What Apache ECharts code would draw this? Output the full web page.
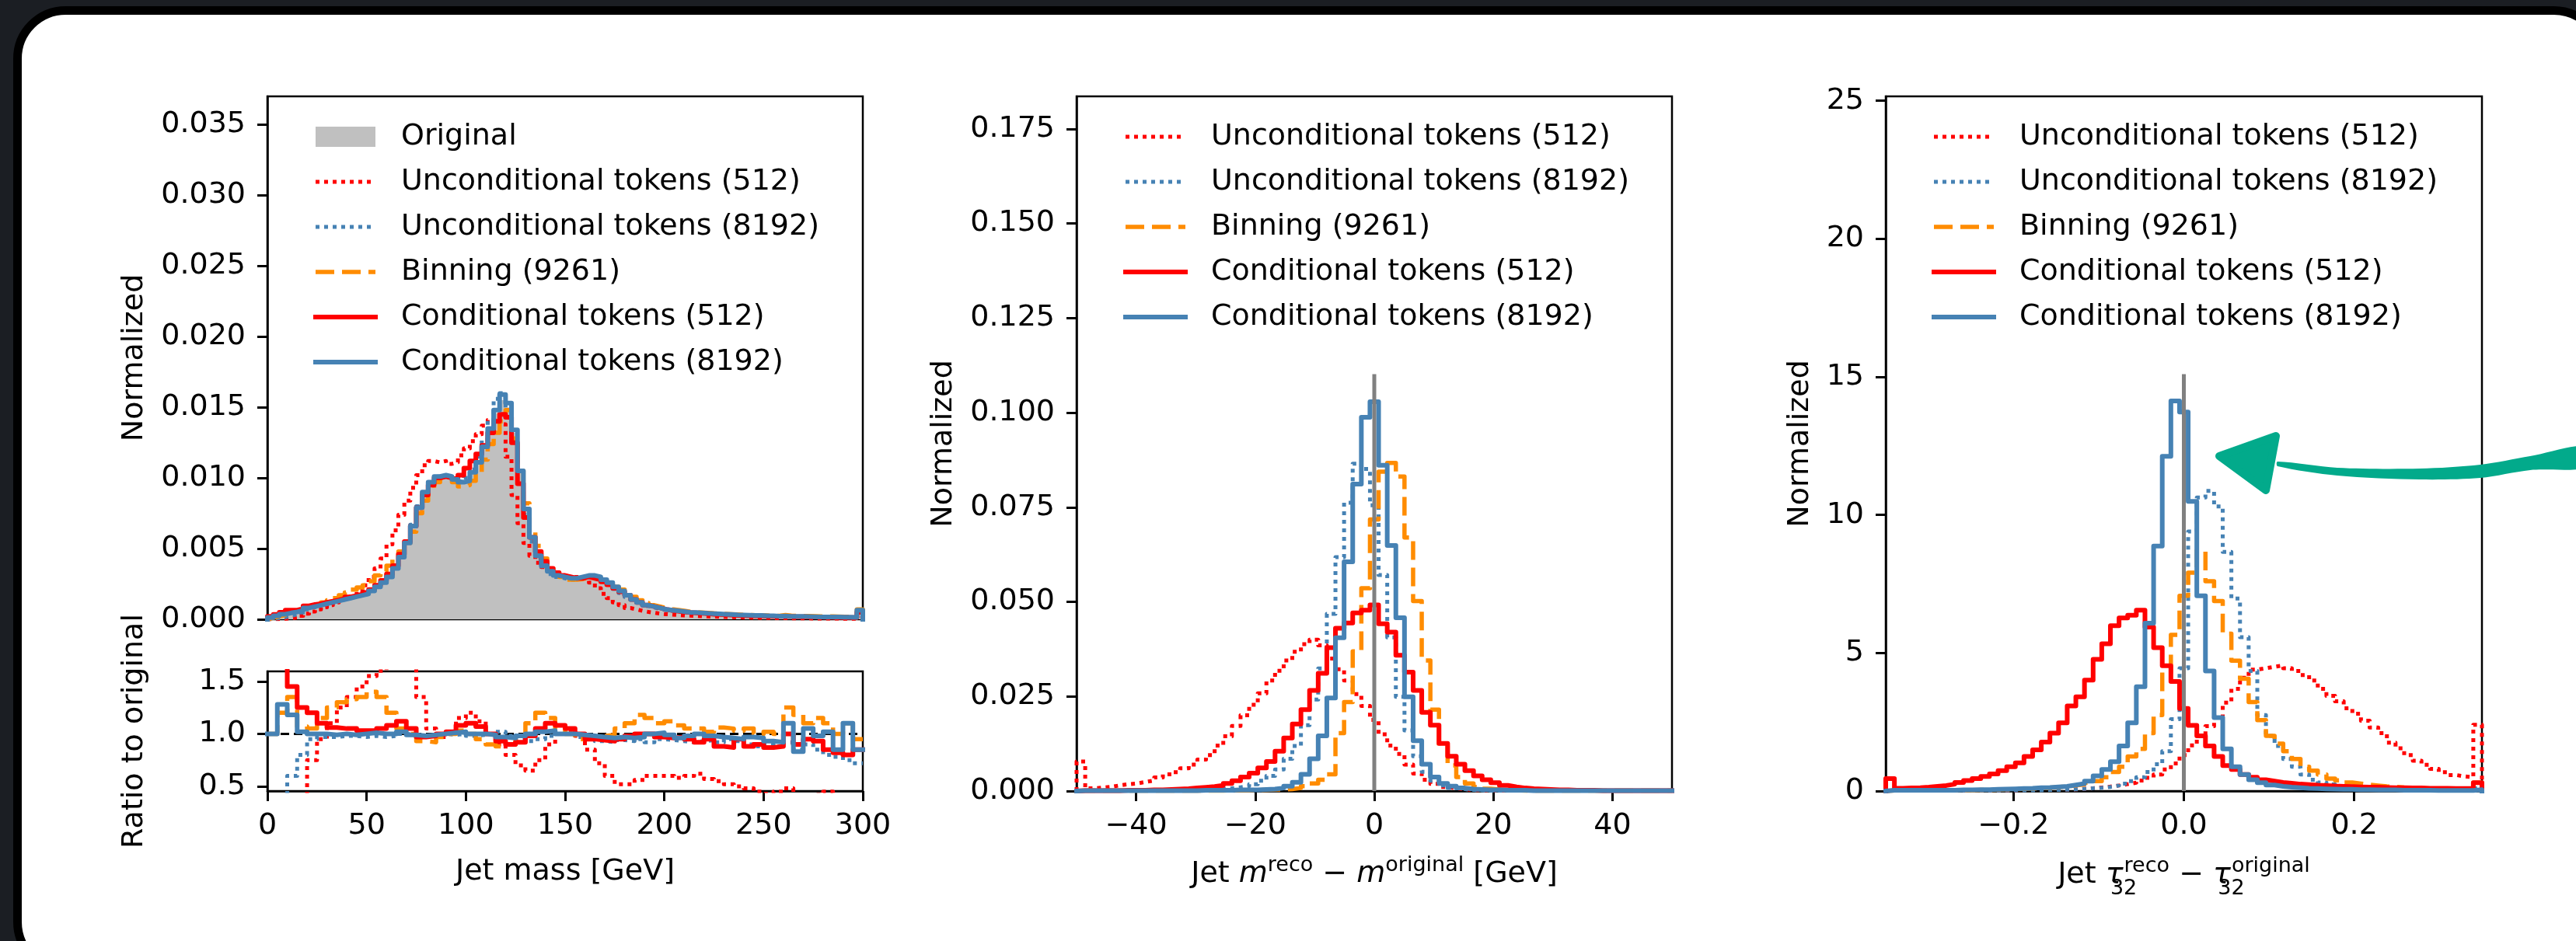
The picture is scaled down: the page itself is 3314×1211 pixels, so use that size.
<!DOCTYPE html>
<html><head><meta charset="utf-8">
<script src="https://cdn.jsdelivr.net/npm/echarts@6/dist/echarts.min.js"></script>
<style>html,body{margin:0;padding:0;background:#1b1e23;overflow:hidden}#c{width:3314px;height:1211px}</style>
</head><body><div id="c"></div>
<script>
// ================= DATA =================
const seriesNames = ['Original','Unconditional tokens (512)','Unconditional tokens (8192)','Binning (9261)','Conditional tokens (512)','Conditional tokens (8192)'];

// Left panel: jet mass, 100 bins over 0-300 GeV, normalized density x 1e-4
const massRange = [0, 300];
const massOriginal = [1,2,3,4,5,6,8,9,10,11,
 12,13,14,15,16,17,18,20,23,26,
 30,36,44,53,65,79,89,96,100,101,
 100,98,96,98,103,110,121,134,146,155,
 150,132,104,78,58,45,38,34,31,30,
 29,29,30,31,31,30,28,26,23,20,
 17,14,12,10,9,8,7,6.5,6,5.5,
 5,4.8,4.5,4.3,4,3.8,3.6,3.4,3.2,3,
 2.9,2.8,2.7,2.6,2.5,2.4,2.3,2.2,2.1,2,
 1.9,1.8,1.8,1.7,1.7,1.6,1.6,1.5,1.5,6];
const massUncond512 = [0.1,0.2,0.4,0.7,1.2,2.5,4,5.5,7,8.5,
 10,12,14,16,18,20,24,30,36,43,
 53,63,74,84,93,102,109,112,111,112,
 110,111,116,121,126,131,137,141,142,138,
 115,88,68,54,45,40,37,35,33,31,
 30,30,30,29,26,22,18,15,12,10,
 8,7,6,5.2,4.6,4,3.6,3.3,3,2.8,
 2.6,2.4,2.2,2,1.9,1.8,1.6,1.5,1.4,1.3,
 1.2,1.1,1,0.95,0.9,0.85,0.8,0.75,0.7,0.7,
 0.65,0.6,0.6,0.55,0.5,0.5,0.45,0.45,0.4,1];
const massUncond8192 = [0.3,0.8,1.5,2.5,3.5,4.8,7,8.5,9.8,10.8,
 12,13,14,15,16,17,18,20,23,26,
 30,36,45,55,67,80,90,97,101,101,
 100,98,97,100,106,115,127,141,156,160,
 148,126,98,74,55,43,36,32,30,29,
 28,28,29,29.5,29.5,28.5,26.5,24.5,21.5,18.5,
 15.8,13,11,9.3,8.3,7.3,6.5,6,5.5,5,
 4.6,4.4,4.1,3.9,3.6,3.4,3.3,3.1,2.9,2.7,
 2.6,2.5,2.4,2.3,2.2,2.1,2,1.9,1.8,1.7,
 1.6,1.5,1.4,1.3,1.3,1.2,1.2,1.1,1.1,4];
const massBinning = [1,2,3,4.5,6,7,8.5,9.5,10.5,12,
 13.5,15,17,19,21,22.5,24,27,31,34,
 38,44,48,54,62,75,84,91,97,100,
 100,97,94,95,98,104,113,124,132,140,
 148,128,105,82,64,52,43,37,33,30,
 28,28,28.5,29.5,29.5,29,27,25,23,21,
 19,16,13.5,11.5,10,9,8,7.2,6.6,6,
 5.4,5.1,4.8,4.5,4.2,4,3.8,3.6,3.4,3.2,
 3,2.9,2.8,2.7,2.6,2.5,3,2.6,2.5,2.3,
 2.3,2.2,2.1,2,2,1.9,1.8,1.8,1.3,7];
const massCond512 = [2,3.5,5,6.5,6.5,7.5,9.5,10.5,11,12,
 12.8,13.7,14.7,15.8,16.8,17.8,19,21,24,27.5,
 32,38,46,55,66,79,88,95,100,101,
 100,99,102,107,112,117,123,132,140,145,
 143,125,96,72,58,48,41,36,33,31,
 30,29,29,30,29,28,26.5,24.5,22,19.5,
 17,14,12,10,9,8,7,6.3,5.8,5.2,
 4.8,4.5,4.2,4,3.6,3.4,3.3,3,2.8,2.6,
 2.5,2.4,2.4,2.2,2.1,2.1,2,1.9,1.8,1.8,
 1.7,1.6,1.5,1.4,1.4,1.3,1.3,1.2,1.2,5];
const massCond8192 = [1.3,2.5,3.6,4.5,5.2,6.2,8,9,10,11,
 12,13,14,15,16,17,18,20,23,26,
 30,36,44,54,66,79,90,97,101,102,
 101,99,97,98,104,111,122,135,148,159,
 153,134,105,78,58,45,38,34,31,30,
 29,29,30,31,31,30,28,26,23,20,
 17,14,12,10,9,8,7,6.5,6,5.5,
 5,4.8,4.5,4.2,4,3.8,3.6,3.4,3.1,3,
 2.9,2.8,2.7,2.5,2.5,2.2,2.4,2.1,2,2,
 1.9,1.8,1.7,1.6,1.7,1.6,1.5,1.5,1.4,6.5];

// Ratio to original, 60 bins over 0-300 GeV
const ratioUncond512 = [0.3,0.3,0.3,0.4,0.75,0.95,1.1,1.25,1.35,1.45,
 1.55,1.6,1.7,1.8,1.65,1.35,1.05,0.97,1.0,1.15,
 1.2,1.12,1.0,0.9,0.8,0.7,0.65,0.75,0.9,1.0,
 1.02,0.98,0.85,0.72,0.6,0.52,0.52,0.56,0.6,0.6,
 0.6,0.58,0.6,0.62,0.57,0.55,0.52,0.5,0.48,0.45,
 0.43,0.45,0.48,0.4,0.4,0.42,0.45,0.4,0.35,0.35];
const ratioUncond8192 = [0.2,0.4,0.6,0.8,0.95,0.97,0.97,0.98,0.98,0.97,
 0.98,0.97,0.98,1.0,0.99,0.98,0.99,1.0,0.99,1.0,
 0.98,0.99,1.0,1.02,0.98,0.95,0.93,0.95,0.98,1.0,
 1.0,0.97,0.95,0.93,0.92,0.94,0.93,0.95,0.92,0.95,
 0.94,0.93,0.92,0.93,0.94,0.92,0.95,0.93,0.9,0.88,
 0.9,0.88,0.92,0.85,0.9,0.85,0.8,0.78,0.75,0.72];
const ratioBinning = [1.0,1.2,1.35,1.07,1.05,1.15,1.25,1.3,1.33,1.35,
 1.4,1.35,1.2,1.05,1.0,0.93,0.92,0.97,1.0,1.03,
 1.0,0.95,0.9,0.88,0.9,0.97,1.1,1.2,1.15,1.05,
 1.0,0.95,0.97,0.98,0.99,1.05,1.1,1.18,1.15,1.1,
 1.12,1.08,1.05,1.05,1.02,1.06,1.05,1.03,1.05,1.0,
 1.02,1.0,1.25,1.18,1.1,1.15,1.1,1.0,1.1,0.95];
const ratioCond512 = [1.8,1.7,1.45,1.25,1.2,1.1,1.06,1.05,1.05,1.03,
 1.03,1.05,1.08,1.12,1.05,0.97,0.98,1.0,1.02,1.08,
 1.1,1.07,1.0,0.93,0.9,0.92,0.98,1.05,1.1,1.08,
 1.05,1.0,0.95,0.94,0.93,0.95,0.98,1.0,1.0,0.97,
 0.96,0.97,0.95,0.92,0.95,0.88,0.87,0.95,0.88,0.9,
 0.87,0.88,1.0,0.9,0.95,0.93,0.85,0.82,0.8,0.85];
const ratioCond8192 = [1.0,1.28,1.18,1.02,1.0,1.0,0.99,1.0,0.99,1.0,
 1.01,1.0,1.0,1.02,0.99,0.98,0.99,1.0,1.01,1.02,
 1.0,1.0,0.99,0.97,0.96,0.98,1.0,1.02,1.03,1.0,
 1.0,0.99,0.98,0.97,0.96,0.97,0.96,0.97,1.0,1.01,
 0.99,0.96,0.98,1.0,0.98,0.97,0.96,0.95,0.97,0.96,
 0.93,0.92,1.1,0.83,1.05,0.98,1.02,0.85,1.1,0.85];

// Middle panel: m_reco - m_original, 69 bins over -50..50 GeV, density x 1e-4
const dmRange = [-50, 50];
const dmUncond512 = [78,7,9,11,15,18,20,24,28,36,
 44,50,60,70,83,95,120,145,172,200,
 228,258,292,318,345,368,388,400,385,350,
 322,292,256,225,188,150,120,98,70,46,
 30,19,11,7,5,3,2,2,1,1,
 1,1,1,1,1,1,1,1,1,1,
 1,1,1,1,1,1,1,1,1];
const dmUncond8192 = [1,1,1,1,1,1,1,1,1,1,
 1,1,2,2,3,4,5,7,10,13,
 18,27,40,57,85,119,174,242,324,468,
 618,762,865,851,755,571,406,249,160,92,
 51,27,15,8,5,3,2,1,1,1,
 1,1,1,1,1,1,1,1,1,1,
 1,1,1,1,1,1,1,1,1];
const dmBinning = [1,1,1,1,1,1,1,1,1,1,
 1,1,1,1,1,1,1,2,2,2,
 3,3,4,4,5,8,13,20,30,44,
 153,235,369,536,718,844,867,831,670,502,
 345,215,119,68,37,20,11,6,4,3,
 2,1,1,1,1,1,1,1,1,1,
 1,1,1,1,1,1,1,1,1];
const dmCond512 = [1,1,1,1,1,2,2,2,3,3,
 4,5,6,8,10,12,15,20,27,37,
 47,61,78,105,140,177,215,266,311,379,
 430,444,471,478,492,442,420,359,314,266,
 208,174,126,92,71,54,40,30,22,15,
 11,8,6,5,4,3,3,2,2,2,
 1,1,1,1,1,1,1,1,1];
const dmCond8192 = [1,1,1,1,1,1,1,1,1,1,
 1,1,1,1,2,2,2,2,3,3,
 3,4,5,8,13,23,44,85,146,246,
 405,606,811,988,1029,861,649,458,249,133,
 71,37,20,13,8,5,4,3,3,2,
 2,2,1,1,1,1,1,1,1,1,
 1,1,1,1,1,1,1,1,1];

// Right panel: tau32_reco - tau32_original, 69 bins over -0.35..0.35, density
const tauRange = [-0.35, 0.35];
const tauUncond512 = [0.02,0.02,0.02,0.02,0.02,0.02,0.02,0.02,0.02,0.03,
 0.03,0.03,0.03,0.03,0.03,0.04,0.04,0.04,0.04,0.05,
 0.05,0.06,0.08,0.1,0.13,0.16,0.2,0.25,0.3,0.38,
 0.48,0.6,0.78,1.0,1.3,1.65,2.0,2.35,2.7,3.2,
 3.7,4.1,4.4,4.45,4.5,4.55,4.45,4.35,4.2,4.0,
 3.7,3.45,3.25,3.0,2.8,2.55,2.3,2.1,1.75,1.55,
 1.3,1.1,0.95,0.8,0.68,0.58,0.53,0.5,2.4];
const tauUncond8192 = [0.02,0.02,0.02,0.02,0.02,0.02,0.02,0.02,0.02,0.02,
 0.02,0.02,0.02,0.03,0.03,0.03,0.03,0.03,0.04,0.04,
 0.05,0.06,0.08,0.1,0.12,0.15,0.2,0.27,0.36,0.5,
 0.69,0.97,1.44,2.6,4.45,9.4,10.63,10.87,10.31,8.66,
 6.97,5.57,4.35,2.75,2.0,1.63,1.16,0.88,0.6,0.41,
 0.31,0.24,0.18,0.14,0.12,0.1,0.08,0.07,0.06,0.05,
 0.04,0.04,0.03,0.03,0.03,0.02,0.02,0.02,0.1];
const tauBinning = [0.02,0.02,0.02,0.02,0.02,0.02,0.03,0.03,0.03,0.03,
 0.04,0.04,0.05,0.06,0.07,0.08,0.09,0.1,0.12,0.14,
 0.17,0.2,0.24,0.3,0.36,0.5,0.69,0.88,1.25,1.53,
 2.1,2.75,4.3,5.66,7.07,7.91,8.71,7.6,6.88,5.7,
 4.72,4.07,3.22,2.57,2.0,1.72,1.44,1.16,0.88,0.74,
 0.6,0.45,0.39,0.31,0.27,0.23,0.2,0.17,0.15,0.13,
 0.12,0.1,0.09,0.08,0.07,0.07,0.06,0.06,0.3];
const tauCond512 = [0.45,0.1,0.11,0.12,0.14,0.17,0.2,0.25,0.31,0.38,
 0.45,0.53,0.62,0.74,0.88,1.02,1.25,1.49,1.77,2.1,
 2.47,3.08,3.41,4.02,4.77,5.33,5.99,6.27,6.37,6.55,
 5.94,5.19,4.54,3.97,2.99,2.38,2.0,1.63,1.25,0.92,
 0.78,0.6,0.5,0.41,0.36,0.31,0.28,0.25,0.23,0.21,
 0.2,0.18,0.17,0.16,0.15,0.14,0.14,0.13,0.12,0.12,
 0.11,0.11,0.1,0.1,0.1,0.09,0.09,0.09,0.3];
const tauCond8192 = [0.03,0.03,0.03,0.03,0.03,0.03,0.03,0.03,0.04,0.04,
 0.05,0.05,0.06,0.07,0.08,0.09,0.1,0.12,0.13,0.15,
 0.17,0.22,0.27,0.36,0.55,0.78,1.06,1.63,2.47,3.78,
 6.08,8.87,12.12,14.13,13.73,10.49,7.07,4.35,2.66,1.53,
 0.88,0.6,0.41,0.3,0.22,0.17,0.14,0.12,0.1,0.09,
 0.08,0.07,0.06,0.06,0.05,0.05,0.04,0.04,0.04,0.03,
 0.03,0.03,0.03,0.02,0.02,0.02,0.02,0.02,0.05];

// Axis ticks and labels
const massXTicks = [0,50,100,150,200,250,300];
const massXLabels = ['0','50','100','150','200','250','300'];
const massYTicks = [0,0.005,0.01,0.015,0.02,0.025,0.03,0.035];
const massYLabels = ['0.000','0.005','0.010','0.015','0.020','0.025','0.030','0.035'];
const ratioYTicks = [0.5,1.0,1.5];
const ratioYLabels = ['0.5','1.0','1.5'];
const dmXTicks = [-40,-20,0,20,40];
const dmXLabels = ['\u221240','\u221220','0','20','40'];
const dmYTicks = [0,0.025,0.05,0.075,0.1,0.125,0.15,0.175];
const dmYLabels = ['0.000','0.025','0.050','0.075','0.100','0.125','0.150','0.175'];
const tauXTicks = [-0.2,0,0.2];
const tauXLabels = ['\u22120.2','0.0','0.2'];
const tauYTicks = [0,5,10,15,20,25];
const tauYLabels = ['0','5','10','15','20','25'];

// Axis ranges
const massYMax = 0.037, ratioYRange = [0.455, 1.595], dmYMax = 0.1836, tauYMax = 25.16;
const refLineFrac = 0.6;

// ================= CHART =================
const FONT = 'DejaVu Sans', FS = 38;
const DOT = [5, 6], DASH = [24, 10];
const STY = {
  'Unconditional tokens (512)':  {color:'#ff0000', width:5, type:DOT, z:3},
  'Unconditional tokens (8192)': {color:'#4682b4', width:5, type:DOT, z:4},
  'Binning (9261)':              {color:'#ff8c00', width:5.5, type:DASH, z:5},
  'Conditional tokens (512)':    {color:'#ff0000', width:6, type:'solid', z:6},
  'Conditional tokens (8192)':   {color:'#4682b4', width:6, type:'solid', z:7}
};

function stepPts(range, vals, k) {
  const n = vals.length, w = (range[1]-range[0])/n;
  const d = [[range[0], 0]];
  for (let i = 0; i < n; i++) d.push([range[0] + i*w, vals[i]*k]);
  d.push([range[1], 0]);
  return d;
}
function ratioPts(range, vals) {
  const n = vals.length, w = (range[1]-range[0])/n;
  const d = [];
  for (let i = 0; i < n; i++) d.push([range[0] + i*w, vals[i]]);
  d.push([range[1], vals[n-1]]);
  return d;
}
function lineSeries(name, idx, data) {
  const s = STY[name];
  return {type:'line', name, xAxisIndex:idx, yAxisIndex:idx, data, step:'end', symbol:'none',
    silent:true, clip:true, z:s.z, itemStyle:{color:s.color},
    lineStyle:{color:s.color, width:s.width, type:s.type, cap: s.type==='solid'?'square':'butt', join:'round'}};
}
function lbl(ticks, labels) {
  return v => { const i = ticks.findIndex(t => Math.abs(t - v) < 1e-9); return i >= 0 ? labels[i] : ''; };
}
const txt = {fontFamily:FONT, fontSize:FS, color:'#000'};
function xAx(grid, range, ticks, labels, name, nameGap, rich) {
  const show = !!ticks;
  return {type:'value', gridIndex:grid, min:range[0], max:range[1],
    name: name || '', nameLocation:'middle', nameGap: nameGap || 0,
    nameTextStyle: Object.assign({}, txt, rich ? {rich} : {}),
    axisLine:{show:show, onZero:false, lineStyle:{color:'#000', width:2.5}},
    axisTick: show ? {show:true, length:13, customValues:ticks, lineStyle:{color:'#000', width:3}} : {show:false},
    axisLabel: show ? Object.assign({show:true, customValues:ticks, margin:26, formatter:lbl(ticks, labels)}, txt) : {show:false},
    splitLine:{show:false}};
}
function yAx(grid, range, ticks, labels, name, nameGap) {
  return {type:'value', gridIndex:grid, min:range[0], max:range[1],
    name, nameLocation:'middle', nameGap, nameRotate:90, nameTextStyle: txt,
    axisLine:{show:true, onZero:false, lineStyle:{color:'#000', width:2.5}},
    axisTick:{show:true, length:13, customValues:ticks, lineStyle:{color:'#000', width:3}},
    axisLabel:Object.assign({show:true, customValues:ticks, margin:28, formatter:lbl(ticks, labels)}, txt),
    splitLine:{show:false}};
}

const series = [];
// Left main
series.push({type:'line', name:'Original', xAxisIndex:0, yAxisIndex:0, data:stepPts(massRange, massOriginal, 1e-4),
  step:'end', symbol:'none', silent:true, z:2, itemStyle:{color:'#c0c0c0'},
  lineStyle:{width:0, color:'#c0c0c0'}, areaStyle:{color:'#c0c0c0', opacity:1}});
const massSets = [massUncond512, massUncond8192, massBinning, massCond512, massCond8192];
const ratioSets = [ratioUncond512, ratioUncond8192, ratioBinning, ratioCond512, ratioCond8192];
const dmSets = [dmUncond512, dmUncond8192, dmBinning, dmCond512, dmCond8192];
const tauSets = [tauUncond512, tauUncond8192, tauBinning, tauCond512, tauCond8192];
// ratio reference line
series.push({type:'line', name:'ref1', xAxisIndex:1, yAxisIndex:1, data:[[massRange[0],1],[massRange[1],1]],
  symbol:'none', silent:true, z:2, lineStyle:{color:'#000', width:3, type:[11,6]}});
for (let j = 0; j < 5; j++) {
  const nm = seriesNames[j+1];
  series.push(lineSeries(nm, 0, stepPts(massRange, massSets[j], 1e-4)));
  series.push(lineSeries(nm, 1, ratioPts(massRange, ratioSets[j])));
  series.push(lineSeries(nm, 2, stepPts(dmRange, dmSets[j], 1e-4)));
  series.push(lineSeries(nm, 3, stepPts(tauRange, tauSets[j], 1)));
}
// zero reference lines (axvline at 0, up to 60% of axis height)
series.push({type:'line', name:'zero2', xAxisIndex:2, yAxisIndex:2, data:[[0,0],[0,dmYMax*refLineFrac]],
  symbol:'none', silent:true, z:9, lineStyle:{color:'#808080', width:5}});
series.push({type:'line', name:'zero3', xAxisIndex:3, yAxisIndex:3, data:[[0,0],[0,tauYMax*refLineFrac]],
  symbol:'none', silent:true, z:9, lineStyle:{color:'#808080', width:5}});

function legendData(names) {
  return names.map(n => {
    if (n === 'Original') return {name:n, icon:'rect', itemStyle:{color:'#c0c0c0', borderWidth:0}};
    const s = STY[n];
    return {name:n, itemStyle:{opacity:0}, lineStyle:{width:s.width, type:s.type, color:s.color}};
  });
}
function legend(left, names) {
  return {left, top:154, orient:'vertical', padding:0, itemWidth:77, itemHeight:26, itemGap:14,
    selectedMode:false,
    textStyle:{fontFamily:FONT, fontSize:FS, color:'#000', lineHeight:44, padding:[0,0,0,28]},
    data:legendData(names)};
}

const richMath = {
  n:{fontFamily:FONT, fontSize:FS, color:'#000'},
  i:{fontFamily:FONT, fontSize:FS, fontStyle:'italic', color:'#000'},
  sup:{fontFamily:FONT, fontSize:27, color:'#000', padding:[0,0,24,0], align:'left'},
  sub:{fontFamily:FONT, fontSize:27, color:'#000', padding:[34,0,0,0], width:1, align:'left'}
};

const option = {
  animation:false,
  backgroundColor:'#1b1e23',
  textStyle:{fontFamily:FONT},
  grid:[
    {left:344, top:124, width:766, height:673, show:true, borderColor:'#000', borderWidth:2.5, backgroundColor:'transparent'},
    {left:344, top:864, width:766, height:154, show:true, borderColor:'#000', borderWidth:2.5, backgroundColor:'transparent'},
    {left:1385, top:124, width:766, height:894, show:true, borderColor:'#000', borderWidth:2.5, backgroundColor:'transparent'},
    {left:2426, top:124, width:767, height:894, show:true, borderColor:'#000', borderWidth:2.5, backgroundColor:'transparent'}
  ],
  xAxis:[
    xAx(0, massRange, null, null),
    xAx(1, massRange, massXTicks, massXLabels, 'Jet mass [GeV]', 85),
    xAx(2, dmRange, dmXTicks, dmXLabels, '{n|Jet }{i|m}{sup|reco}{n| \u2212 }{i|m}{sup|original}{n| [GeV]}', 82, richMath),
    xAx(3, tauRange, tauXTicks, tauXLabels, '{n|Jet }{i|\u03c4}{sub|32}{sup|reco}{n| \u2212 }{i|\u03c4}{sub|32}{sup|original}', 78, richMath)
  ],
  yAxis:[
    yAx(0, [0, massYMax], massYTicks, massYLabels, 'Normalized', 152),
    yAx(1, ratioYRange, ratioYTicks, ratioYLabels, 'Ratio to original', 152),
    yAx(2, [0, dmYMax], dmYTicks, dmYLabels, 'Normalized', 152),
    yAx(3, [0, tauYMax], tauYTicks, tauYLabels, 'Normalized', 91)
  ],
  legend:[
    legend(403, seriesNames),
    legend(1445, seriesNames.slice(1)),
    legend(2485, seriesNames.slice(1))
  ],
  graphic:[
    {type:'rect', z:-10, silent:true, shape:{x:22.5, y:13.5, width:3325, height:1235, r:62},
      style:{fill:'#ffffff', stroke:'#000000', lineWidth:11}},
    {type:'polygon', z:60, silent:true, shape:{smooth:0.3, points:[[3330,574],[3255,587],[3191,598],[3113,603],[3007,602],[2930,594],[2930,600],[3007,612],[3113,617],[3191,615],[3255,605],[3330,601]]},
      style:{fill:'#02aa8b'}},
    {type:'polygon', z:61, silent:true, shape:{points:[[2855,587],[2928,561],[2915,631]]},
      style:{fill:'#02aa8b', stroke:'#02aa8b', lineWidth:10, lineJoin:'round'}}
  ],
  series
};
const chart = echarts.init(document.getElementById('c'), null, {renderer:'canvas', width:3314, height:1211});
chart.setOption(option);
</script>
</body></html>
